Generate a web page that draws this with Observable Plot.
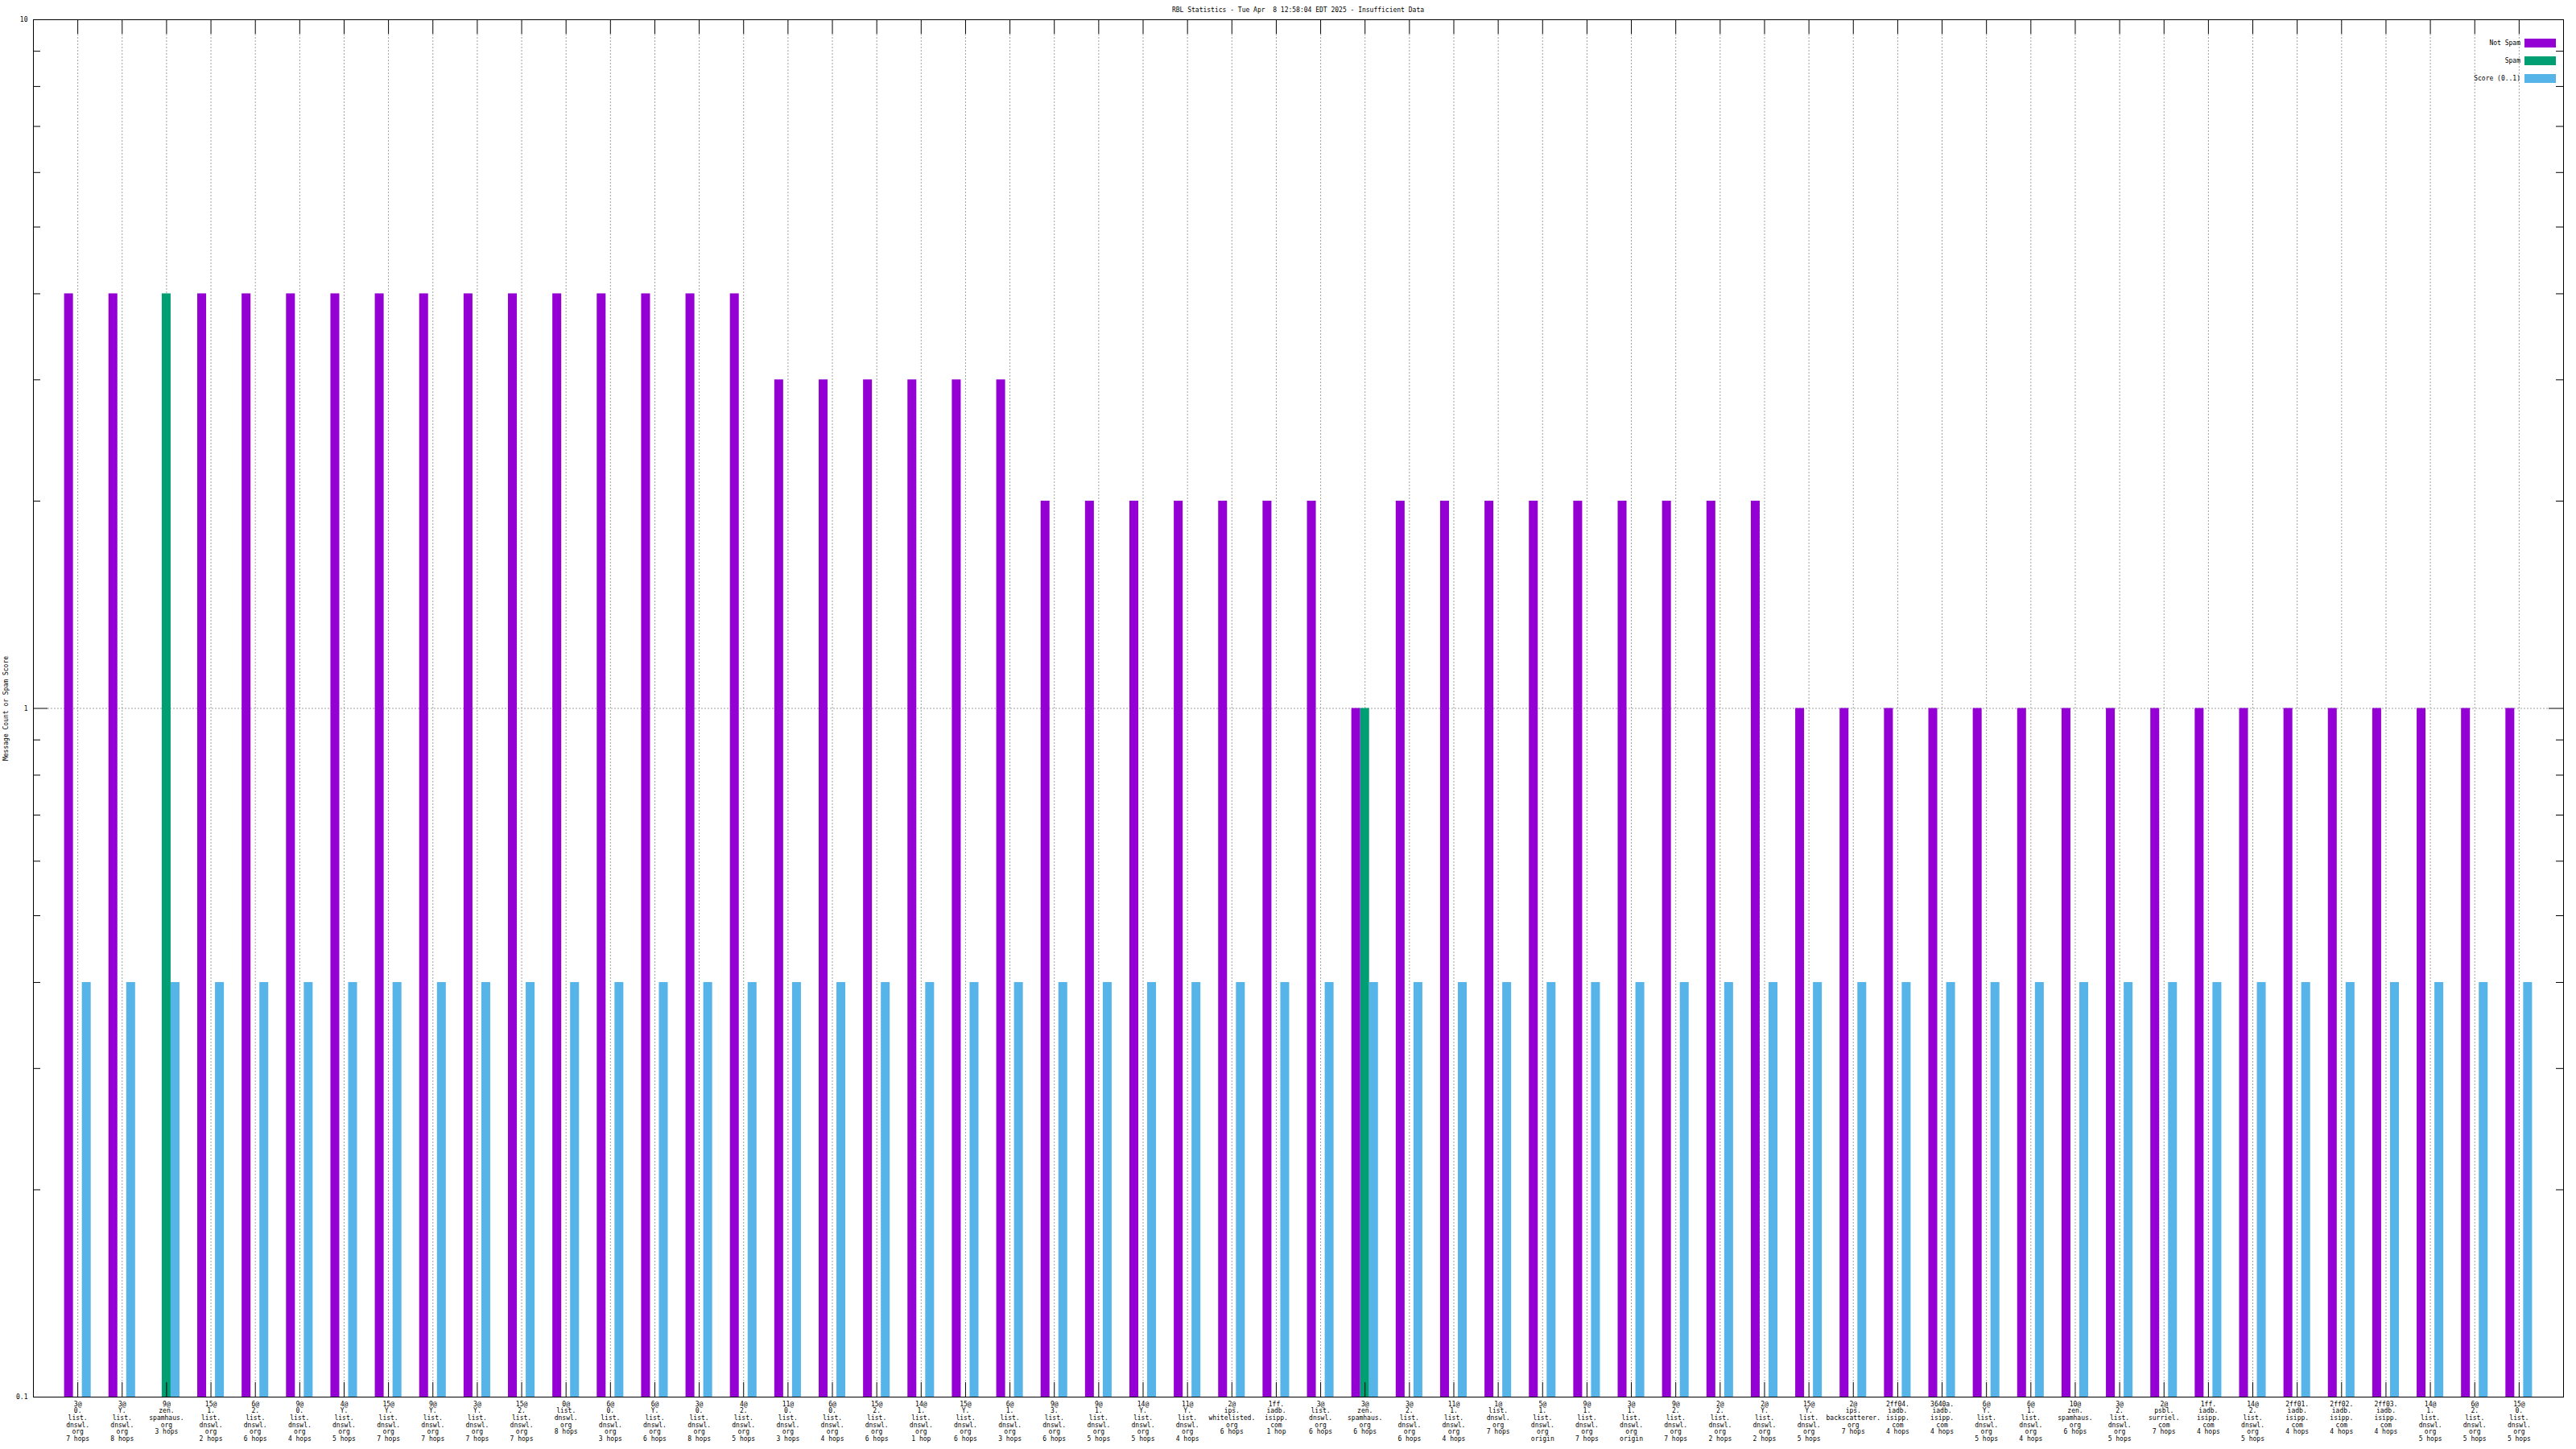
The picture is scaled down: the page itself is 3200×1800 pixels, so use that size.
<!DOCTYPE html>
<html>
<head>
<meta charset="utf-8">
<script src="https://cdn.jsdelivr.net/npm/d3@7"></script>
<script src="https://cdn.jsdelivr.net/npm/@observablehq/plot@0.6"></script>
<style>
  body { margin: 0; background: #fff; font-family: "DejaVu Sans Mono", monospace; }
  #wrap { position: relative; width: 3200px; height: 1800px; overflow: hidden; }
  #title { position: absolute; left: 41px; width: 3143px; top: 8px; height: 10px; font-size: 8px; line-height: 10px; text-align: center; white-space: pre; }
  #chart { position: absolute; left: 0; top: 20px; }
  .lg-text { position: absolute; right: 69px; height: 11px; font-size: 8px; line-height: 11px; text-align: right; white-space: pre; }
  .lg-swatch { position: absolute; left: 3136px; width: 39px; height: 11px; }
</style>
</head>
<body>
<div id="wrap">
  <div id="title"></div>
  <div id="chart"></div>
</div>
<script>
// ---- data ----
const titleText = "RBL Statistics - Tue Apr  8 12:58:04 EDT 2025 - Insufficient Data";
const yLabel = "Message Count or Spam Score";

const categories = [
  "3@\n0.\nlist.\ndnswl.\norg\n7 hops",
  "3@\nY.\nlist.\ndnswl.\norg\n8 hops",
  "9@\nzen.\nspamhaus.\norg\n3 hops",
  "15@\n1.\nlist.\ndnswl.\norg\n2 hops",
  "6@\n2.\nlist.\ndnswl.\norg\n6 hops",
  "9@\n0.\nlist.\ndnswl.\norg\n4 hops",
  "4@\nY.\nlist.\ndnswl.\norg\n5 hops",
  "15@\nY.\nlist.\ndnswl.\norg\n7 hops",
  "9@\nY.\nlist.\ndnswl.\norg\n7 hops",
  "3@\nY.\nlist.\ndnswl.\norg\n7 hops",
  "15@\n2.\nlist.\ndnswl.\norg\n7 hops",
  "0@\nlist.\ndnswl.\norg\n8 hops",
  "6@\n0.\nlist.\ndnswl.\norg\n3 hops",
  "6@\nY.\nlist.\ndnswl.\norg\n6 hops",
  "3@\n0.\nlist.\ndnswl.\norg\n8 hops",
  "4@\n2.\nlist.\ndnswl.\norg\n5 hops",
  "11@\n0.\nlist.\ndnswl.\norg\n3 hops",
  "6@\n0.\nlist.\ndnswl.\norg\n4 hops",
  "15@\n2.\nlist.\ndnswl.\norg\n6 hops",
  "14@\n1.\nlist.\ndnswl.\norg\n1 hop",
  "15@\nY.\nlist.\ndnswl.\norg\n6 hops",
  "6@\n1.\nlist.\ndnswl.\norg\n3 hops",
  "9@\n3.\nlist.\ndnswl.\norg\n6 hops",
  "9@\n1.\nlist.\ndnswl.\norg\n5 hops",
  "14@\nY.\nlist.\ndnswl.\norg\n5 hops",
  "11@\nY.\nlist.\ndnswl.\norg\n4 hops",
  "2@\nips.\nwhitelisted.\norg\n6 hops",
  "1ff.\niadb.\nisipp.\ncom\n1 hop",
  "3@\nlist.\ndnswl.\norg\n6 hops",
  "3@\nzen.\nspamhaus.\norg\n6 hops",
  "3@\n2.\nlist.\ndnswl.\norg\n6 hops",
  "11@\n1.\nlist.\ndnswl.\norg\n4 hops",
  "1@\nlist.\ndnswl.\norg\n7 hops",
  "5@\n1.\nlist.\ndnswl.\norg\norigin",
  "9@\n1.\nlist.\ndnswl.\norg\n7 hops",
  "3@\n1.\nlist.\ndnswl.\norg\norigin",
  "9@\n2.\nlist.\ndnswl.\norg\n7 hops",
  "2@\n2.\nlist.\ndnswl.\norg\n2 hops",
  "2@\nY.\nlist.\ndnswl.\norg\n2 hops",
  "15@\nY.\nlist.\ndnswl.\norg\n5 hops",
  "2@\nips.\nbackscatterer.\norg\n7 hops",
  "2ff04.\niadb.\nisipp.\ncom\n4 hops",
  "3640a.\niadb.\nisipp.\ncom\n4 hops",
  "6@\nY.\nlist.\ndnswl.\norg\n5 hops",
  "6@\n1.\nlist.\ndnswl.\norg\n4 hops",
  "10@\nzen.\nspamhaus.\norg\n6 hops",
  "3@\n2.\nlist.\ndnswl.\norg\n5 hops",
  "2@\npsbl.\nsurriel.\ncom\n7 hops",
  "1ff.\niadb.\nisipp.\ncom\n4 hops",
  "14@\n2.\nlist.\ndnswl.\norg\n5 hops",
  "2ff01.\niadb.\nisipp.\ncom\n4 hops",
  "2ff02.\niadb.\nisipp.\ncom\n4 hops",
  "2ff03.\niadb.\nisipp.\ncom\n4 hops",
  "14@\n1.\nlist.\ndnswl.\norg\n5 hops",
  "6@\n2.\nlist.\ndnswl.\norg\n5 hops",
  "15@\n0.\nlist.\ndnswl.\norg\n5 hops"
];

const notSpam = [
  4, 4, 0, 4, 4, 4, 4, 4, 4, 4, 4, 4, 4, 4, 4, 4,
  3, 3, 3, 3, 3, 3,
  2, 2, 2, 2, 2, 2, 2,
  1,
  2, 2, 2, 2, 2, 2, 2, 2, 2,
  1, 1, 1, 1, 1, 1, 1, 1, 1, 1, 1, 1, 1, 1, 1, 1, 1
];
const spam = [
  0, 0, 4, 0, 0, 0, 0, 0, 0, 0, 0, 0, 0, 0, 0, 0,
  0, 0, 0, 0, 0, 0,
  0, 0, 0, 0, 0, 0, 0,
  1,
  0, 0, 0, 0, 0, 0, 0, 0, 0,
  0, 0, 0, 0, 0, 0, 0, 0, 0, 0, 0, 0, 0, 0, 0, 0, 0
];
const score = [
  0.4, 0.4, 0.4, 0.4, 0.4, 0.4, 0.4, 0.4, 0.4, 0.4, 0.4, 0.4, 0.4, 0.4, 0.4, 0.4,
  0.4, 0.4, 0.4, 0.4, 0.4, 0.4,
  0.4, 0.4, 0.4, 0.4, 0.4, 0.4, 0.4,
  0.4,
  0.4, 0.4, 0.4, 0.4, 0.4, 0.4, 0.4, 0.4, 0.4,
  0.4, 0.4, 0.4, 0.4, 0.4, 0.4, 0.4, 0.4, 0.4, 0.4, 0.4, 0.4, 0.4, 0.4, 0.4, 0.4, 0.4
];

const seriesNames = ["Not Spam", "Spam", "Score (0..1)"];
const seriesValues = [notSpam, spam, score];
const seriesColors = ["#9400d3", "#009e73", "#56b4e9"];

const yMajor = [0.1, 1, 10];
const yMinor = [0.2, 0.3, 0.4, 0.5, 0.6, 0.7, 0.8, 0.9, 2, 3, 4, 5, 6, 7, 8, 9];

// ---- build ----
document.getElementById("title").textContent = titleText;

const idx = d3.range(categories.length);
const rows = [];
seriesNames.forEach((s, k) => seriesValues[k].forEach((v, i) => { if (v > 0) rows.push({i, k, s, v}); }));

const nX = categories.length;
const barW = 0.2;
const yBottom = yMajor[0], yTop = yMajor[yMajor.length - 1];
const grid = {stroke: "#a0a0a0", strokeDasharray: "2,2", strokeWidth: 1};

const chart = Plot.plot({
  width: 3200,
  height: 1780,
  marginTop: 4,
  marginLeft: 41,
  marginRight: 16,
  marginBottom: 65,
  style: {fontFamily: "DejaVu Sans Mono", fontSize: "8px", background: "white", overflow: "visible", color: "black"},
  x: {type: "linear", domain: [-1, nX], axis: null},
  y: {type: "log", domain: [yBottom, yTop], axis: null},
  color: {domain: seriesNames, range: seriesColors},
  marks: [
    // grid
    Plot.ruleX(idx, {x: d => d, ...grid, insetTop: 18, insetBottom: 18}),
    Plot.ruleY([1], {y: d => d, ...grid, insetLeft: 18, insetRight: 18}),
    // bars
    Plot.rect(rows, {
      x1: d => d.i + (d.k - 1.5) * barW,
      x2: d => d.i + (d.k - 0.5) * barW,
      y1: () => yBottom,
      y2: "v",
      fill: "s"
    }),
    // frame
    Plot.frame({stroke: "black", strokeWidth: 1}),
    // x ticks (bottom and mirrored top), inward
    Plot.ruleX(idx, {x: d => d, y1: () => yBottom, y2: () => yBottom, insetTop: -18, stroke: "black"}),
    Plot.ruleX(idx, {x: d => d, y1: () => yTop, y2: () => yTop, insetBottom: -18, stroke: "black"}),
    // y ticks left/right
    Plot.ruleY(yMajor, {y: d => d, x1: () => -1, x2: () => -1, insetRight: -18, stroke: "black"}),
    Plot.ruleY(yMajor, {y: d => d, x1: () => nX, x2: () => nX, insetLeft: -18, stroke: "black"}),
    Plot.ruleY(yMinor, {y: d => d, x1: () => -1, x2: () => -1, insetRight: -9, stroke: "black"}),
    Plot.ruleY(yMinor, {y: d => d, x1: () => nX, x2: () => nX, insetLeft: -9, stroke: "black"}),
    // y tick labels
    Plot.text(yMajor, {y: d => d, text: d => String(d), frameAnchor: "left", textAnchor: "end", dx: -7, fill: "black"}),
    // x tick labels
    Plot.text(idx, {x: d => d, text: d => categories[d], frameAnchor: "bottom", lineAnchor: "top", dy: 5, lineHeight: 1.08, fill: "black"}),
    // y axis label
    Plot.text([yLabel], {text: d => d, frameAnchor: "left", textAnchor: "middle", rotate: -90, dx: -34, fill: "black"})
  ]
});
document.getElementById("chart").appendChild(chart);

// legend (inside top-right of the plot area)
const wrap = document.getElementById("wrap");
const legendCenters = [53, 75, 97];
seriesNames.forEach((s, k) => {
  const t = document.createElement("div");
  t.className = "lg-text";
  t.style.top = (legendCenters[k] - 5.5) + "px";
  t.textContent = s;
  wrap.appendChild(t);
  const sw = document.createElement("div");
  sw.className = "lg-swatch";
  sw.style.top = (legendCenters[k] - 5.5) + "px";
  sw.style.background = seriesColors[k];
  wrap.appendChild(sw);
});
</script>
</body>
</html>
